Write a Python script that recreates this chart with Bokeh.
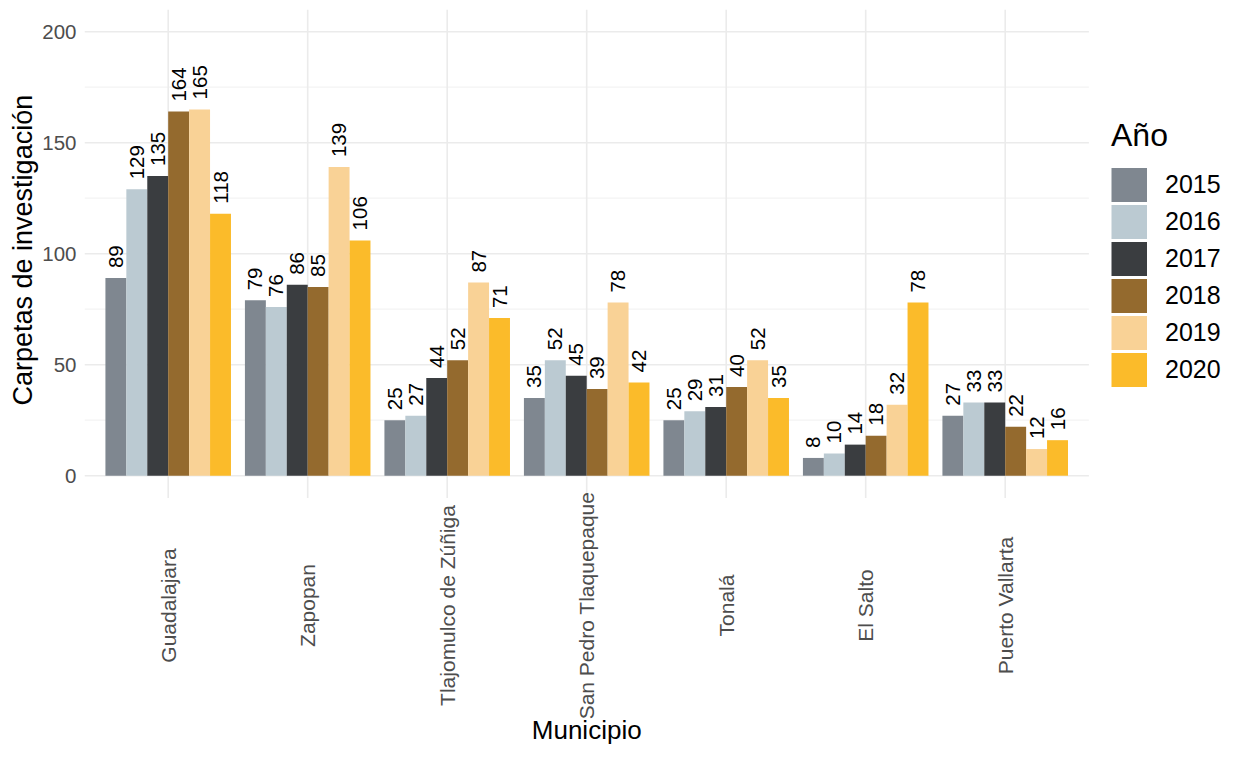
import numpy as np
from bokeh.plotting import figure
from bokeh.models import (ColumnDataSource, Range1d, FixedTicker, Legend, LegendItem, Title)
from bokeh.embed import file_html
from bokeh.resources import INLINE
from bokeh.core.properties import value

municipios = ["Guadalajara", "Zapopan", "Tlajomulco de Zúñiga", "San Pedro Tlaquepaque",
              "Tonalá", "El Salto", "Puerto Vallarta"]
years = ["2015", "2016", "2017", "2018", "2019", "2020"]
v2015 = [89, 79, 25, 35, 25, 8, 27]
v2016 = [129, 76, 27, 52, 29, 10, 33]
v2017 = [135, 86, 44, 45, 31, 14, 33]
v2018 = [164, 85, 52, 39, 40, 18, 22]
v2019 = [165, 139, 87, 78, 52, 32, 12]
v2020 = [118, 106, 71, 42, 35, 78, 16]
series = [v2015, v2016, v2017, v2018, v2019, v2020]
colors = ["#7F8790", "#BBCAD2", "#3A3D40", "#946A2E", "#F9D296", "#FBBB2A"]
major_ticks = [0, 50, 100, 150, 200]
minor_ticks = [25, 75, 125, 175]

FONT = "Liberation Sans"
W, H = 1224, 745
FL, FT = 84, 9            # frame left / top in px
PX_X = 139.5              # px per category unit
PX_Y = 2.22               # px per y unit
X0, Y1 = 0.4, 210.0       # panel limits (ggplot expansion)
X1P, Y0P = 7.6, -10.0
ZERO_PX = FT + Y1 * PX_Y  # screen y of value 0
bar_w = 0.9 / len(years)

x_end = X0 + (W - FL) / PX_X
y_start = Y1 - (H - FT) / PX_Y

p = figure(width=W, height=H, output_backend="svg", toolbar_location=None,
           x_range=Range1d(X0, x_end), y_range=Range1d(y_start, Y1),
           min_border_left=FL, min_border_right=0, min_border_top=FT, min_border_bottom=0)
p.outline_line_color = None
p.background_fill_color = "white"
p.xaxis.visible = False
p.xgrid.visible = False
p.ygrid.visible = False

p.yaxis.ticker = FixedTicker(ticks=major_ticks, minor_ticks=[])
p.yaxis.axis_line_color = None
p.yaxis.major_tick_line_color = None
p.yaxis.minor_tick_line_color = None
p.yaxis.major_tick_out = 0
p.yaxis.major_tick_in = 0
p.yaxis.major_label_text_font = FONT
p.yaxis.major_label_text_font_size = "20.5px"
p.yaxis.major_label_text_color = "#4D4D4D"
p.yaxis.major_label_standoff = 8

# grid lines (panel only)
p.segment(x0=X0, x1=X1P, y0=minor_ticks, y1=minor_ticks, line_color="#F3F3F3", line_width=1.3)
p.segment(x0=X0, x1=X1P, y0=major_ticks, y1=major_ticks, line_color="#EBEBEB", line_width=1.6)
cat_x = list(range(1, len(municipios) + 1))
p.segment(x0=cat_x, x1=cat_x, y0=Y0P, y1=Y1, line_color="#EBEBEB", line_width=1.6)

items = []
for j, (yr, vals, col) in enumerate(zip(years, series, colors)):
    xs = [c + (j - (len(years) - 1) / 2) * bar_w for c in cat_x]
    src = ColumnDataSource(dict(x=xs, top=vals, lab=[str(v) for v in vals]))
    p.vbar(x="x", top="top", bottom=0, width=bar_w, source=src,
           fill_color=col, line_color=None)
    p.text(x="x", y="top", text="lab", source=src, angle=np.pi / 2,
           text_align="left", text_baseline="middle", y_offset=-10,
           text_font=value(FONT), text_font_size="20.5px", text_color="black")
    # legend key: a thick (never drawn) line renderer gives a full-size square swatch
    key = p.line(x=np.array([np.nan]), y=np.array([np.nan]), line_color=col,
                 line_width=34, line_cap="butt")
    items.append(LegendItem(label=yr, renderers=[key]))

# category labels, centred & rotated
cat_y = (ZERO_PX - 605) / PX_Y
p.text(x=cat_x, y=[cat_y] * len(cat_x), text=municipios, angle=np.pi / 2,
       text_align="center", text_baseline="middle",
       text_font=value(FONT), text_font_size="21px", text_color="#4D4D4D")

# x axis title
p.text(x=[(X0 + X1P) / 2], y=[(ZERO_PX - 729) / PX_Y], text=["Municipio"],
       text_align="center", text_baseline="middle",
       text_font=value(FONT), text_font_size="26px", text_color="black")

# y axis title (starts at screen y 405, reading upward)
p.add_layout(Title(text="Carpetas de investigación", align="left", offset=H - 405,
                   text_font=FONT, text_font_size="27px", text_font_style="normal",
                   text_color="black", standoff=3), "left")

legend = Legend(items=items, title="Año", location=(1111 - FL, H - 388),
                title_text_font=FONT, title_text_font_size="32px",
                title_text_font_style="normal", title_text_color="black",
                title_standoff=12,
                label_text_font=FONT, label_text_font_size="25px", label_text_color="black",
                glyph_width=36, glyph_height=37, label_standoff=18,
                spacing=0, padding=0, margin=0,
                border_line_color=None, background_fill_alpha=0)
p.add_layout(legend)

open("out.html", "w").write(file_html(p, INLINE))
